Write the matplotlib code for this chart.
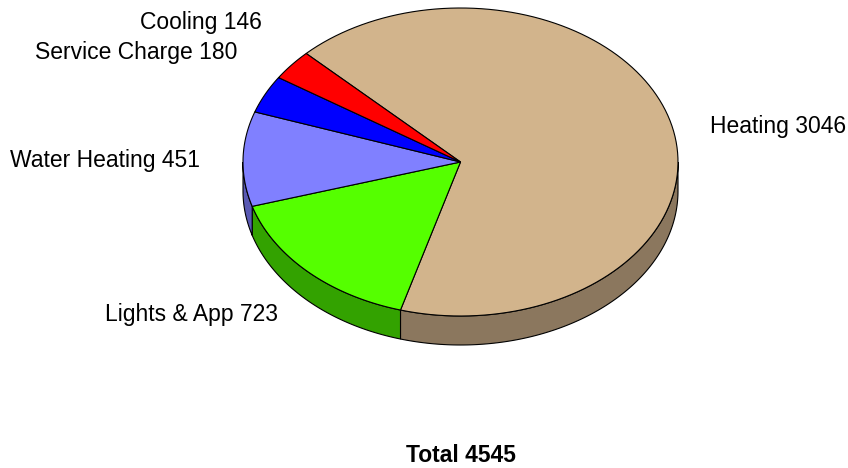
import numpy as np
import matplotlib.pyplot as plt
from matplotlib.patches import Polygon

plt.rcParams['font.family'] = ['Liberation Sans', 'DejaVu Sans']

# --- Data ---
categories = ['Heating', 'Lights & App', 'Water Heating', 'Service Charge', 'Cooling']
values = [3046, 723, 451, 180, 146]
total_shown = 4545  # total as printed on the chart (rounded source figures)
top_colors = ['#d2b48c', '#55ff00', '#8080ff', '#0000ff', '#ff0000']
side_colors = ['#8b775e', '#33a200', '#5959b3', '#0000b3', '#b30000']

# label anchor (x, y, ha) in pixel coords
label_pos = [(710, 127, 'left'), (278, 314, 'right'), (200, 160, 'right'),
             (237, 52, 'right'), (262, 22, 'right')]

# --- Geometry of the tilted pie (pixel coordinates) ---
cx, cy = 460.5, 162
rx, ry = 217.5, 154
depth = 29
start = 135.2  # degrees, slices go clockwise

fracs = np.array(values) / sum(values)
cum = np.concatenate([[0], np.cumsum(fracs)]) * 360


def arc(t1, t2, dy=0, n=120):
    t = np.radians(np.linspace(t1, t2, n))
    return np.column_stack([cx + rx * np.cos(t), cy - ry * np.sin(t) + dy])


fig = plt.figure(figsize=(8.48, 4.68), dpi=100)
ax = fig.add_axes([0, 0, 1, 1])
ax.set_xlim(0, 848)
ax.set_ylim(468, 0)
ax.axis('off')

# side walls (front half only)
for i in range(len(values)):
    th1 = start - cum[i + 1]
    th2 = start - cum[i]
    for k in (-360, 0):
        lo = max(th1, 180 + k)
        hi = min(th2, 360 + k)
        if hi > lo:
            top = arc(lo, hi)
            bot = arc(hi, lo, dy=depth)
            ax.add_patch(Polygon(np.vstack([top, bot]), closed=True,
                                 facecolor=side_colors[i], edgecolor='black',
                                 linewidth=0.8))

# top faces
for i in range(len(values)):
    th1 = start - cum[i + 1]
    th2 = start - cum[i]
    pts = np.vstack([[cx, cy], arc(th1, th2)])
    ax.add_patch(Polygon(pts, closed=True, facecolor=top_colors[i],
                         edgecolor='black', linewidth=0.8))

# labels
for name, v, (x, y, ha) in zip(categories, values, label_pos):
    ax.text(x, y, f'{name} {v}', ha=ha, va='center', fontsize=16.5)

ax.text(cx, 456, f'Total {total_shown}', ha='center', va='center',
        fontsize=16.5, fontweight='bold')

fig.savefig('out.png', dpi=100)
